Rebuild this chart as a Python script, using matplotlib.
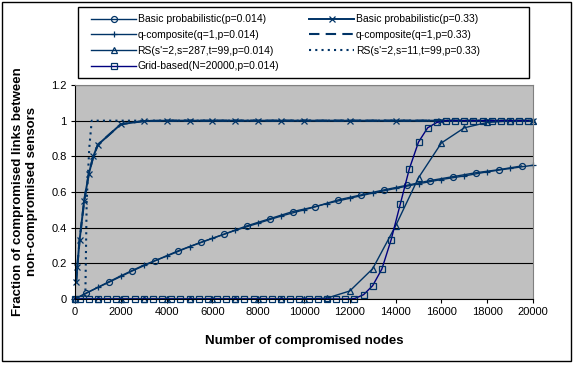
import matplotlib
matplotlib.use("Agg")
import matplotlib.pyplot as plt
from matplotlib.patches import Rectangle

plt.rcParams['font.family'] = ['Liberation Sans', 'DejaVu Sans']

# Basic probabilistic (p=0.014), circle markers
basic014_x = [0, 500, 1500, 2500, 3500, 4500, 5500, 6500, 7500, 8500, 9500,
              10500, 11500, 12500, 13500, 14500, 15500, 16500, 17500, 18500, 19500]
basic014_y = [0, 0.034, 0.095, 0.157, 0.215, 0.27, 0.318, 0.363, 0.41, 0.45, 0.49,
              0.518, 0.556, 0.584, 0.612, 0.638, 0.664, 0.686, 0.708, 0.725, 0.746]

# q-composite (q=1, p=0.014), plus markers
qcomp014_x = [0, 1000, 2000, 3000, 4000, 5000, 6000, 7000, 8000, 9000, 10000,
              11000, 12000, 13000, 14000, 15000, 16000, 17000, 18000, 19000, 20000]
qcomp014_y = [0, 0.066, 0.13, 0.19, 0.24, 0.293, 0.34, 0.385, 0.425, 0.465, 0.5,
              0.535, 0.565, 0.594, 0.62, 0.646, 0.67, 0.69, 0.713, 0.732, 0.75]

# Basic probabilistic (p=0.33), x markers; q-composite (q=1, p=0.33) same curve, dashed
basic033_x = [50, 100, 200, 400, 600, 800, 1000, 2000, 3000, 4000, 5000, 6000,
              7000, 8000, 9000, 10000, 12000, 14000, 16000, 18000, 20000]
basic033_y = [0.095, 0.18, 0.33, 0.55, 0.70, 0.80, 0.865, 0.98, 0.998, 1.0, 1.0, 1.0,
              1.0, 1.0, 1.0, 1.0, 1.0, 1.0, 1.0, 1.0, 1.0]
qcomp033_x = basic033_x
qcomp033_y = basic033_y

# RS(s'=2, s=287, t=99, p=0.014), triangle markers
rs014_x = qcomp014_x
rs014_y = [0, 0, 0, 0, 0, 0, 0, 0, 0, 0, 0,
           0.005, 0.045, 0.17, 0.41, 0.68, 0.875, 0.96, 0.99, 0.998, 1.0]

# RS(s'=2, s=11, t=99, p=0.33), dotted
rs033_x = [0, 450, 510, 625, 730, 20000]
rs033_y = [0, 0, 0.55, 0.85, 1.0, 1.0]

# Grid-based (N=20000, p=0.014), square markers
grid_x = [0] + list(range(200, 20000, 400))
grid_y = [0, 0, 0, 0, 0, 0, 0, 0, 0, 0, 0, 0, 0, 0, 0, 0,
          0, 0, 0, 0, 0, 0, 0, 0, 0, 0, 0, 0, 0, 0, 0,
          0.002, 0.024, 0.075, 0.168, 0.33, 0.53, 0.73, 0.88, 0.96, 0.99,
          1.0, 1.0, 1.0, 1.0, 1.0, 1.0, 1.0, 1.0, 1.0, 1.0]

labels = ['Basic probabilistic(p=0.014)', 'Basic probabilistic(p=0.33)',
          'q-composite(q=1,p=0.014)', 'q-composite(q=1,p=0.33)',
          "RS(s'=2,s=287,t=99,p=0.014)", "RS(s'=2,s=11,t=99,p=0.33)",
          'Grid-based(N=20000,p=0.014)']

x_ticks = [0, 2000, 4000, 6000, 8000, 10000, 12000, 14000, 16000, 18000, 20000]
y_ticks = [0, 0.2, 0.4, 0.6, 0.8, 1.0, 1.2]
y_tick_labels = ['0', '0.2', '0.4', '0.6', '0.8', '1', '1.2']

blue = '#003366'
navy = '#000080'

W, H = 574, 365
fig = plt.figure(figsize=(W / 100, H / 100), dpi=100)
ax = fig.add_axes([75 / W, 1 - 299 / H, 458 / W, 214 / H])
ax.set_facecolor('#C0C0C0')

mk = dict(markersize=4.3, markerfacecolor='none', markeredgewidth=0.9, clip_on=False)
h_b014, = ax.plot(basic014_x, basic014_y, color=blue, lw=1, marker='o', label=labels[0], **mk)
h_b033, = ax.plot(basic033_x, basic033_y, color=blue, lw=1.4, marker='x', label=labels[1], **mk)
h_q014, = ax.plot(qcomp014_x, qcomp014_y, color=blue, lw=1, marker='+', label=labels[2],
                  markersize=5, markeredgewidth=0.9, clip_on=False)
h_q033, = ax.plot(qcomp033_x, qcomp033_y, color=blue, lw=1.5, ls=(0, (5, 3)), label=labels[3],
                  clip_on=False)
h_rs014, = ax.plot(rs014_x, rs014_y, color=blue, lw=1, marker='^', label=labels[4], **mk)
h_rs033, = ax.plot(rs033_x, rs033_y, color=blue, lw=1.5, ls=(0, (1, 2)), label=labels[5],
                   clip_on=False)
h_grid, = ax.plot(grid_x, grid_y, color=navy, lw=1, marker='s', markeredgecolor=blue,
                  label=labels[6], **mk)

ax.set_xlim(0, 20000)
ax.set_ylim(0, 1.2)
ax.set_xticks(x_ticks)
ax.set_xticklabels([str(t) for t in x_ticks])
ax.set_yticks(y_ticks)
ax.set_yticklabels(y_tick_labels)
ax.tick_params(direction='out', length=3, width=0.8, labelsize=8, colors='black', pad=3)
ax.yaxis.grid(True, color='black', lw=0.8)
ax.set_axisbelow(True)
for side in ('top', 'right'):
    ax.spines[side].set_color('#808080')
for side in ('left', 'bottom'):
    ax.spines[side].set_color('black')

fig.text(304 / W, 1 - 341 / H, 'Number of compromised nodes', ha='center', va='center',
         fontsize=9.5, fontweight='bold')
fig.text(25 / W, 1 - 192 / H,
         'Fraction of compromised links between\nnon-compromised sensors',
         ha='center', va='center', rotation=90, multialignment='center',
         fontsize=9.5, fontweight='bold', linespacing=1.3)

# legend box and outer frame
fig.patches.append(Rectangle((78 / W, 1 - 78 / H), 451 / W, 71 / H, transform=fig.transFigure,
                             fill=False, edgecolor='black', lw=1))
fig.patches.append(Rectangle((2 / W, 1 - 361 / H), 569 / W, 359 / H, transform=fig.transFigure,
                             fill=False, edgecolor='black', lw=1))

handles = [h_b014, h_q014, h_rs014, h_grid, h_b033, h_q033, h_rs033]
fig.legend(handles, [h.get_label() for h in handles], ncol=2, loc='upper left',
           bbox_to_anchor=(86 / W, 1 - 9 / H), frameon=False, borderpad=0,
           handlelength=4.3, handletextpad=0.15, columnspacing=2.9, labelspacing=0.55,
           fontsize=7.5)

fig.savefig('out.png', dpi=100, facecolor='white')
